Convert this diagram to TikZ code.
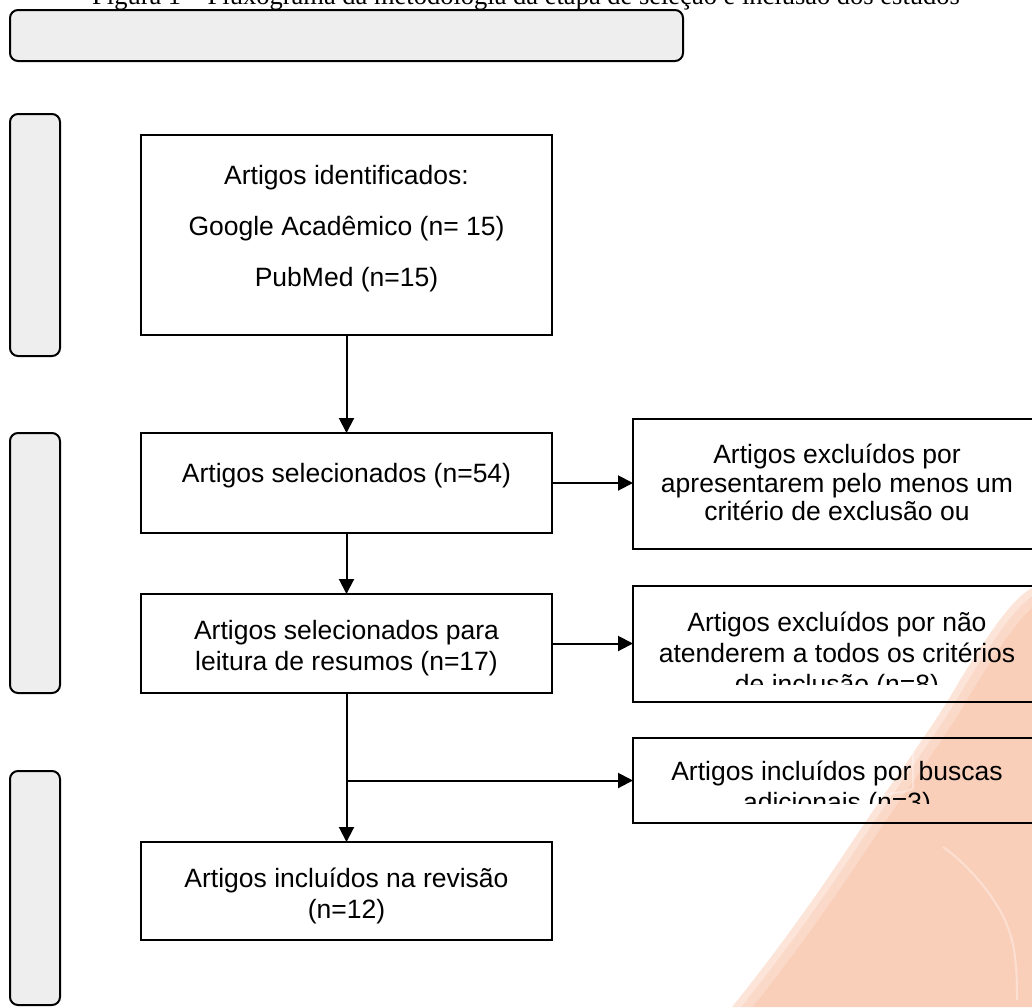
\documentclass[tikz,border=0pt]{standalone}
\usepackage{fontspec}
\setmainfont{Liberation Serif}
\newfontfamily\arialf{Liberation Sans}
\usetikzlibrary{arrows.meta}
\definecolor{peach}{RGB}{250,207,186}
\definecolor{panelgray}{RGB}{238,238,238}
\begin{document}
\begin{tikzpicture}[x=1pt,y=-1pt,
  panel/.style={draw=black, line width=2pt, fill=panelgray, rounded corners=8pt},
  flowbox/.style={draw=black, line width=2pt, rectangle, inner sep=0pt, outer sep=0pt},
  txt/.style={font=\arialf\fontsize{26.5}{30}\selectfont, anchor=base, inner sep=0pt},
  conn/.style={line width=2pt, -{Triangle[length=15pt,width=15pt]}},
  blobline/.style={white, line width=2pt, opacity=.35}
]
\useasboundingbox (0,0) rectangle (1032,1007);
\clip (0,0) rectangle (1032,1007);

% watermark blob
\fill[peach] (1032,588) .. controls (1010,600) and (985,640) .. (960,680)
  .. controls (940,715) and (925,735) .. (905,765)
  .. controls (880,800) and (860,830) .. (840,860)
  .. controls (810,905) and (770,960) .. (732,1007)
  -- (1032,1007) -- cycle;
\draw[white, opacity=.22, line width=32pt] (1032,588) .. controls (1010,600) and (985,640) .. (960,680)
  .. controls (940,715) and (925,735) .. (905,765)
  .. controls (880,800) and (860,830) .. (840,860)
  .. controls (810,905) and (770,960) .. (732,1007);
\draw[white, opacity=.3, line width=14pt] (1032,588) .. controls (1010,600) and (985,640) .. (960,680)
  .. controls (940,715) and (925,735) .. (905,765)
  .. controls (880,800) and (860,830) .. (840,860)
  .. controls (810,905) and (770,960) .. (732,1007);
\draw[blobline] (913,700) -- (913,788) .. controls (905,795) and (885,790) .. (872,802);
\draw[blobline] (943,847) .. controls (965,862) and (995,895) .. (1007,925) .. controls (1015,945) and (1017,965) .. (1017,1000);

% title
\node[font=\fontsize{26.5}{30}\selectfont, anchor=base, inner sep=0pt] (title) at (526,4)
  {Figura 1 – Fluxograma da metodologia da etapa de seleção e inclusão dos estudos};

% side panels
\draw[panel] (10,10) rectangle (683,61);
\draw[panel] (10,114) rectangle (60,356);
\draw[panel] (10,433) rectangle (60,693);
\draw[panel] (10,771) rectangle (60,1005);

% boxes
\node[flowbox, minimum width=411pt, minimum height=200pt] (A) at (346.5,235) {};
\node[flowbox, minimum width=411pt, minimum height=100pt] (B) at (346.5,483) {};
\node[flowbox, minimum width=411pt, minimum height=99pt] (C) at (346.5,643.5) {};
\node[flowbox, minimum width=411pt, minimum height=98pt] (D) at (346.5,891) {};
\node[flowbox, minimum width=408pt, minimum height=130pt] (R1) at (837,484) {};
\node[flowbox, minimum width=408pt, minimum height=116pt] (R2) at (837,644) {};
\node[flowbox, minimum width=408pt, minimum height=85pt] (R3) at (837,780.5) {};

% texts
\node[txt] (A1) at (346.5,184) {Artigos identificados:};
\node[txt] (A2) at (346.5,235) {Google Acadêmico (n= 15)};
\node[txt] (A3) at (346.5,286) {PubMed (n=15)};
\node[txt] (B1) at (346.5,482) {Artigos selecionados (n=54)};
\node[txt] (C1) at (346.5,639) {Artigos selecionados para};
\node[txt] (C2) at (346.5,670) {leitura de resumos (n=17)};
\node[txt] (D1) at (346.5,887) {Artigos incluídos na revisão};
\node[txt] (D2) at (346.5,918) {(n=12)};

\begin{scope}
\clip (633,419) rectangle (1041,530);
\node[txt] (R1a) at (837,463) {Artigos excluídos por};
\node[txt] (R1b) at (837,492) {apresentarem pelo menos um};
\node[txt] (R1c) at (837,520) {critério de exclusão ou};
\end{scope}
\begin{scope}
\clip (633,586) rectangle (1041,684);
\node[txt] (R2a) at (837,631) {Artigos excluídos por não};
\node[txt] (R2b) at (837,662) {atenderem a todos os critérios};
\node[txt] (R2c) at (837,693) {de inclusão (n=8)};
\end{scope}
\begin{scope}
\clip (633,738) rectangle (1041,803);
\node[txt] (R3a) at (837,780) {Artigos incluídos por buscas};
\node[txt] (R3b) at (837,811) {adicionais (n=3)};
\end{scope}

% connectors
\draw[conn] (A.south) -- (B.north);
\draw[conn] (B.east) -- (B.east -| R1.west);
\draw[conn] (B.south) -- (C.north);
\draw[conn] (C.east) -- (C.east -| R2.west);
\draw[conn] (C.south) -- (D.north);
\coordinate (br) at (C.south |- R3.west);
\draw[conn] (br) -- (R3.west);
\end{tikzpicture}
\end{document}
